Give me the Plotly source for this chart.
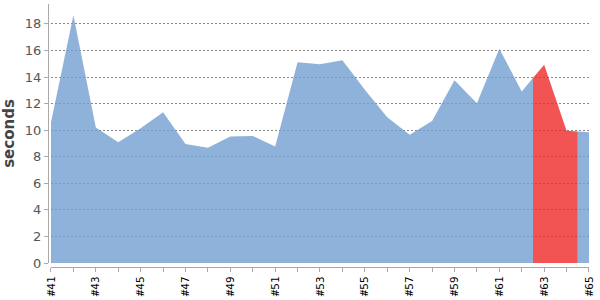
import plotly.graph_objects as go

# ---- data ----
builds = ["#41", "#42", "#43", "#44", "#45", "#46", "#47", "#48", "#49", "#50",
          "#51", "#52", "#53", "#54", "#55", "#56", "#57", "#58", "#59", "#60",
          "#61", "#62", "#63", "#64", "#65"]
durations = [10.6, 18.65, 10.2, 9.1, 10.15, 11.35, 8.97, 8.68, 9.52, 9.57,
             8.77, 15.11, 14.96, 15.26, 13.05, 10.97, 9.65, 10.7, 13.76, 12.02,
             16.13, 12.92, 14.93, 9.95, 9.85]
status = ["success"] * 22 + ["failure", "failure", "success"]
y_ticks = [0, 2, 4, 6, 8, 10, 12, 14, 16, 18]

colors = {"success": "rgba(114,159,207,0.8)", "failure": "rgba(239,41,41,0.8)"}

n = len(builds)
pos = list(range(n))

# group consecutive builds with the same status
runs = []
start = 0
for i in range(1, n + 1):
    if i == n or status[i] != status[start]:
        runs.append((start, i - 1))
        start = i

fig = go.Figure()
for a, b in runs:
    xs, ys = [], []
    if a > 0:
        xs.append((pos[a - 1] + pos[a]) / 2)
        ys.append((durations[a - 1] + durations[a]) / 2)
    for k in range(a, b + 1):
        xs.append(pos[k])
        ys.append(durations[k])
    if b < n - 1:
        xs.append((pos[b] + pos[b + 1]) / 2)
        ys.append((durations[b] + durations[b + 1]) / 2)
    fig.add_trace(go.Scatter(
        x=xs, y=ys, mode="lines", fill="tozeroy",
        fillcolor=colors[status[a]], line=dict(width=0, color=colors[status[a]]),
        hoverinfo="skip", showlegend=False))

ticktext = [lab if i % 2 == 0 else "" for i, lab in enumerate(builds)]

fig.update_layout(
    width=600, height=300,
    margin=dict(l=48, r=9, t=4, b=31),
    paper_bgcolor="white", plot_bgcolor="white",
    xaxis=dict(
        domain=[3 / 543, 1], range=[0, n - 1], anchor="free", position=0,
        showline=True, linecolor="#aaaaaa", linewidth=1,
        ticks="outside", ticklen=4, tickcolor="#aaaaaa",
        tickvals=pos, ticktext=ticktext, tickangle=-90,
        tickfont=dict(family="DejaVu Sans Mono", size=11, color="black"),
        showgrid=False, zeroline=False,
    ),
    yaxis=dict(
        domain=[4 / 265, 1], range=[0, 19.5], anchor="free", position=0,
        showline=True, linecolor="#aaaaaa", linewidth=1,
        ticks="outside", ticklen=4, tickcolor="#aaaaaa",
        tickvals=y_ticks,
        tickfont=dict(family="DejaVu Sans", size=13, color="#555555"),
        showgrid=True, gridcolor="#888888", griddash="2px,2px", gridwidth=1,
        zeroline=False,
        title=dict(text="<b>seconds</b>", standoff=5,
                   font=dict(family="DejaVu Sans", size=15, color="#444444")),
    ),
)

fig.write_html("out.html")
